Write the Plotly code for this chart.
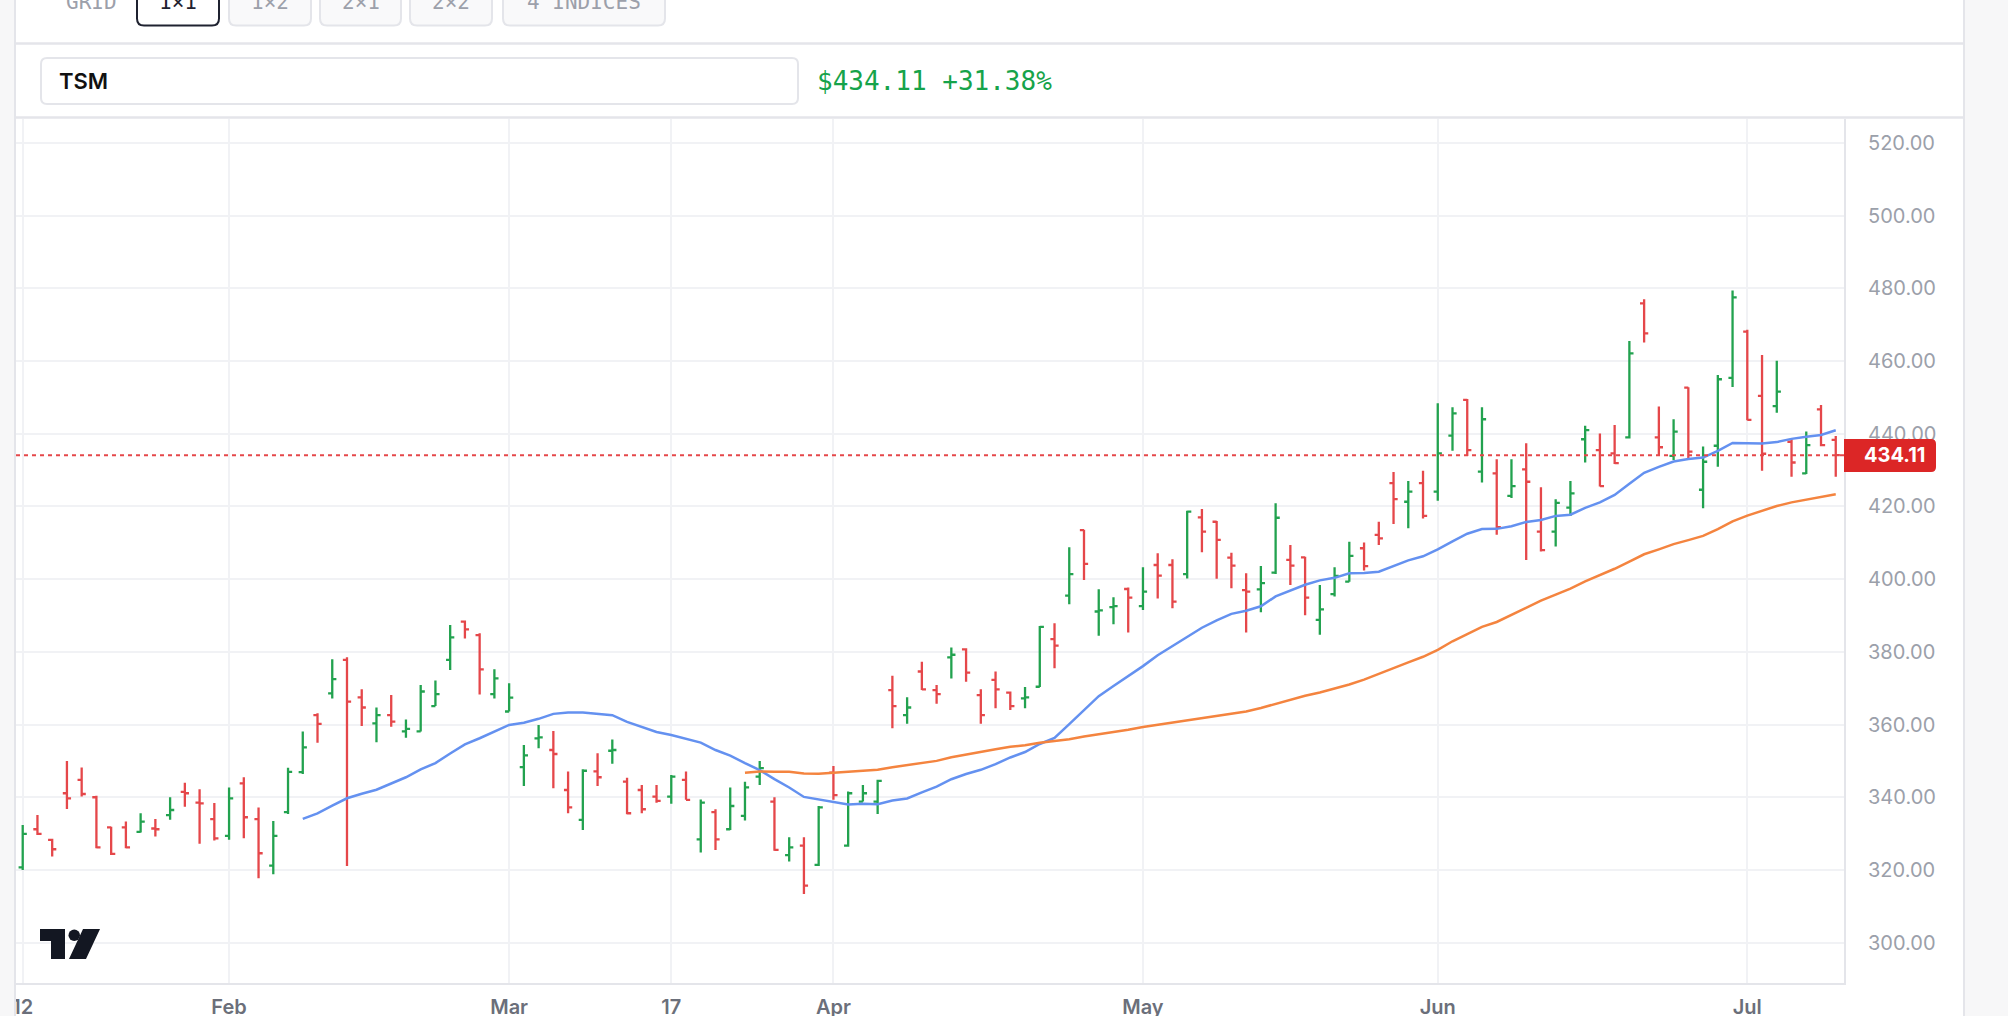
import pandas as pd
import plotly.graph_objects as go

# ---------------- data ----------------
symbol = "TSM"
last_price = 434.11
pct_change = 31.38

jan_days = [12, 13, 14, 15, 16, 20, 21, 22, 23, 26, 27, 28, 29, 30]
feb_days = [2, 3, 4, 5, 6, 9, 10, 11, 12, 13, 17, 18, 19, 20, 23, 24, 25, 26, 27]
mar_days = [2, 3, 4, 5, 6, 9, 10, 11, 12, 13, 16, 17, 18, 19, 20, 23, 24, 25, 26, 27, 30, 31]
apr_days = [1, 2, 6, 7, 8, 9, 10, 13, 14, 15, 16, 17, 20, 21, 22, 23, 24, 27, 28, 29, 30]
may_days = [1, 4, 5, 6, 7, 8, 11, 12, 13, 14, 15, 18, 19, 20, 21, 22, 26, 27, 28, 29]
jun_days = [1, 2, 3, 4, 5, 8, 9, 10, 11, 12, 15, 16, 17, 18, 22, 23, 24, 25, 26, 29, 30]
jul_days = [1, 2, 6, 7, 8, 9, 10]

opens = [320.7, 331.2, 328.3, 341.1, 344.8, 340.0, 331.7, 331.7, 330.5, 331.4,
         335.1, 341.5, 338.5, 334.0, 329.4, 343.8, 334.0, 321.2, 335.9, 346.9,
         362.6, 368.6, 377.8, 367.5, 360.3, 362.6, 358.1, 358.1, 365.1, 377.8,
         388.3, 384.6, 368.4, 363.6, 348.3, 356.2, 353.0, 342.0, 333.8, 347.1,
         352.8, 344.3, 342.0, 340.2, 340.2, 344.8, 328.4, 335.9, 331.2, 334.9,
         345.7, 338.8, 324.1, 326.7, 321.4, 346.8, 326.7, 338.8, 338.8, 369.5,
         362.6, 374.6, 369.5, 378.5, 380.7, 368.1, 372.3, 368.8, 367.2, 370.4,
         383.5, 395.5, 413.5, 391.1, 392.3, 397.3, 392.6, 403.9, 403.9, 401.4,
         417.0, 415.8, 405.9, 397.0, 397.2, 401.8, 405.3, 406.0, 388.8, 395.9,
         399.3, 408.5, 412.2, 426.4, 421.3, 426.4, 424.1, 439.5, 449.3, 429.6,
         429.1, 422.9, 430.2, 413.1, 413.1, 419.7, 438.5, 435.5, 434.6, 439.0,
         475.9, 439.0, 433.9, 452.7, 424.6, 436.7, 455.4, 468.1, 450.4, 447.6,
         437.8, 429.1, 446.7, 438.3]

highs = [332.4, 335.1, 328.6, 350.0, 348.2, 340.4, 331.9, 333.3, 335.6, 334.0,
         340.0, 344.0, 342.2, 338.4, 342.7, 345.5, 337.2, 333.5, 348.1, 358.1,
         363.1, 378.0, 378.5, 369.7, 364.7, 368.1, 361.4, 370.9, 372.1, 387.4,
         388.6, 385.1, 375.2, 371.4, 354.4, 359.9, 358.2, 347.1, 347.7, 352.1,
         355.9, 345.4, 343.4, 343.4, 346.1, 347.1, 339.4, 336.7, 342.7, 344.3,
         350.0, 340.0, 329.0, 329.0, 337.6, 348.6, 341.6, 343.4, 344.8, 373.4,
         367.5, 377.3, 370.9, 381.2, 381.0, 369.7, 374.6, 369.1, 370.3, 387.1,
         387.9, 408.8, 413.6, 397.2, 395.0, 397.7, 403.3, 407.1, 405.5, 418.8,
         419.3, 416.0, 407.3, 401.6, 403.6, 420.9, 409.4, 406.2, 398.4, 403.3,
         410.3, 410.1, 415.8, 429.5, 427.0, 429.8, 448.4, 447.3, 449.6, 447.3,
         433.0, 433.0, 437.4, 425.3, 422.0, 427.0, 442.2, 440.1, 442.4, 465.5,
         477.0, 447.5, 444.0, 452.8, 436.5, 456.2, 479.4, 468.6, 461.7, 460.1,
         438.5, 440.6, 447.9, 439.4]

lows = [320.0, 329.6, 323.7, 336.8, 340.2, 326.0, 324.1, 326.0, 330.3, 329.2,
        333.8, 337.4, 327.2, 328.1, 328.3, 328.7, 317.7, 318.8, 335.4, 346.4,
        355.0, 367.2, 321.1, 359.6, 355.1, 359.4, 356.4, 358.1, 365.1, 375.0,
        383.7, 368.3, 367.2, 363.6, 343.1, 353.5, 342.5, 335.6, 331.0, 343.1,
        349.2, 335.3, 335.6, 338.5, 338.2, 339.3, 324.8, 325.5, 331.0, 333.6,
        343.4, 325.3, 322.3, 313.4, 321.1, 339.3, 326.4, 338.8, 335.4, 359.0,
        360.2, 369.5, 365.7, 372.7, 371.8, 360.2, 364.5, 364.0, 364.5, 370.3,
        375.5, 393.1, 399.8, 384.4, 387.6, 385.3, 391.5, 394.7, 392.0, 400.2,
        407.4, 400.1, 397.5, 385.3, 390.9, 401.4, 398.4, 390.1, 384.7, 395.2,
        399.3, 402.4, 409.4, 415.2, 414.0, 416.7, 421.6, 435.3, 433.9, 426.6,
        412.2, 422.3, 405.3, 407.6, 409.0, 417.4, 432.1, 425.5, 431.7, 438.7,
        465.1, 433.9, 432.8, 432.8, 419.5, 430.9, 452.9, 443.7, 429.8, 445.8,
        428.2, 428.9, 436.6, 428.2]

closes = [329.9, 329.9, 325.7, 339.7, 340.9, 326.2, 324.4, 326.2, 333.3, 331.2,
          336.5, 341.1, 338.3, 328.7, 339.7, 334.5, 324.6, 329.4, 347.0, 353.7,
          360.2, 372.5, 366.3, 364.7, 362.6, 360.8, 358.8, 369.1, 368.4, 384.0,
          386.2, 375.2, 372.7, 367.4, 351.5, 356.5, 351.9, 337.2, 347.3, 345.5,
          353.0, 335.6, 336.7, 339.0, 345.7, 339.3, 338.5, 328.4, 337.6, 342.7,
          348.0, 325.5, 326.2, 315.7, 337.2, 340.6, 341.1, 341.1, 344.5, 365.1,
          364.7, 369.7, 368.4, 379.2, 374.3, 362.6, 369.7, 365.1, 367.5, 386.9,
          381.7, 401.4, 404.2, 391.4, 392.6, 394.9, 396.6, 401.0, 393.8, 418.6,
          413.1, 410.8, 403.7, 396.6, 398.9, 416.9, 403.7, 394.9, 391.7, 400.9,
          406.4, 403.6, 411.2, 422.0, 424.1, 417.4, 434.6, 445.6, 435.5, 444.0,
          414.3, 425.6, 426.8, 408.0, 421.0, 423.6, 441.0, 425.6, 431.9, 462.1,
          467.6, 436.3, 440.6, 435.1, 432.3, 455.0, 477.5, 443.8, 434.5, 451.6,
          432.1, 436.9, 436.9, 434.11]

tick_dates = ["2026-01-12", "2026-02-02", "2026-03-02", "2026-03-17",
              "2026-04-01", "2026-05-01", "2026-06-01", "2026-07-01"]
tick_text = ["12", "Feb", "Mar", "17", "Apr", "May", "Jun", "Jul"]
price_ticks = [300, 320, 340, 360, 380, 400, 420, 440, 460, 480, 500, 520]
grid_buttons = ["1×1", "1×2", "2×1", "2×2", "4 INDICES"]

months = [(1, jan_days), (2, feb_days), (3, mar_days), (4, apr_days),
          (5, may_days), (6, jun_days), (7, jul_days)]
dates = [f"2026-{m:02d}-{d:02d}" for m, days in months for d in days]

close_s = pd.Series(closes)
sma20 = close_s.rolling(20).mean().round(2).tolist()
sma50 = close_s.rolling(50).mean().round(2).tolist()

# ---------------- style ----------------
W, H = 2008, 1016
PL, PR, PT, PB = 16, 1844, 119, 983
PW, PH = PR - PL, PB - PT

GREEN = "#22a24f"
RED = "#e5474a"
BLUE = "#6491f0"
ORANGE = "#f4843f"
GRID = "#f1f2f5"
BORDER = "#e4e5ea"
TXT_GREEN = "#16a34a"


def fx(px):
    return (px - PL) / PW


def fy(py):
    return (PB - py) / PH


def rrect(x0, y0, x1, y1, r, rl=True, rr=True):
    rl_ = r if rl else 0
    rr_ = r if rr else 0
    p = f"M {fx(x0 + rl_)},{fy(y0)} L {fx(x1 - rr_)},{fy(y0)} "
    p += f"Q {fx(x1)},{fy(y0)} {fx(x1)},{fy(y0 + rr_)} L {fx(x1)},{fy(y1 - rr_)} "
    p += f"Q {fx(x1)},{fy(y1)} {fx(x1 - rr_)},{fy(y1)} L {fx(x0 + rl_)},{fy(y1)} "
    p += f"Q {fx(x0)},{fy(y1)} {fx(x0)},{fy(y1 - rl_)} L {fx(x0)},{fy(y0 + rl_)} "
    p += f"Q {fx(x0)},{fy(y0)} {fx(x0 + rl_)},{fy(y0)} Z"
    return p


fig = go.Figure()

fig.add_trace(go.Ohlc(
    x=dates, open=opens, high=highs, low=lows, close=closes,
    increasing=dict(line=dict(color=GREEN, width=2.3)),
    decreasing=dict(line=dict(color=RED, width=2.3)),
    tickwidth=0.28, showlegend=False, hoverinfo="skip",
))
fig.add_trace(go.Scatter(x=dates, y=sma20, mode="lines",
                         line=dict(color=BLUE, width=2.5), showlegend=False, hoverinfo="skip"))
fig.add_trace(go.Scatter(x=dates, y=sma50, mode="lines",
                         line=dict(color=ORANGE, width=2.5), showlegend=False, hoverinfo="skip"))

shapes = []
annotations = []

# side strips and card borders
shapes.append(dict(type="rect", xref="paper", yref="paper", x0=fx(0), x1=fx(14), y0=fy(0), y1=fy(H),
                   fillcolor="#f7f7f8", line=dict(width=0), layer="above"))
shapes.append(dict(type="rect", xref="paper", yref="paper", x0=fx(1965), x1=fx(W), y0=fy(0), y1=fy(H),
                   fillcolor="#f7f7f8", line=dict(width=0), layer="above"))
shapes.append(dict(type="line", xref="paper", yref="paper", x0=fx(15), x1=fx(15), y0=fy(0), y1=fy(H),
                   line=dict(color=BORDER, width=2), layer="above"))
shapes.append(dict(type="line", xref="paper", yref="paper", x0=fx(1964), x1=fx(1964), y0=fy(0), y1=fy(H),
                   line=dict(color=BORDER, width=2), layer="above"))
# header separators
for yy in (43.5, 117.5):
    shapes.append(dict(type="line", xref="paper", yref="paper", x0=fx(15), x1=fx(1964), y0=fy(yy), y1=fy(yy),
                       line=dict(color=BORDER, width=2.5), layer="above"))

# grid buttons (top row, cut by the window edge)
btn_boxes = [(137, 219), (229, 311), (320, 401), (410, 492), (503, 665)]
for i, (lbl, (bx0, bx1)) in enumerate(zip(grid_buttons, btn_boxes)):
    active = i == 0
    shapes.append(dict(type="path", xref="paper", yref="paper",
                       path=rrect(bx0, -14, bx1, 25.5, 7),
                       fillcolor="#ffffff" if active else "#f9f9fa",
                       line=dict(color="#1f2230" if active else "#e4e5ea", width=2), layer="above"))
    annotations.append(dict(x=fx((bx0 + bx1) / 2), y=fy(2), xref="paper", yref="paper", text=lbl,
                            showarrow=False, xanchor="center", yanchor="middle",
                            font=dict(family="DejaVu Sans Mono", size=21,
                                      color="#1f2230" if active else "#9ca0aa")))
annotations.append(dict(x=fx(64), y=fy(2), xref="paper", yref="paper", text="GRID", showarrow=False,
                        xanchor="left", yanchor="middle",
                        font=dict(family="DejaVu Sans Mono", size=21, color="#9ca0aa")))

# symbol input box
shapes.append(dict(type="path", xref="paper", yref="paper", path=rrect(41, 58, 798, 104, 6),
                   fillcolor="#ffffff", line=dict(color="#e4e5ea", width=2), layer="above"))
annotations.append(dict(x=fx(57), y=fy(81), xref="paper", yref="paper", text=symbol, showarrow=False,
                        xanchor="left", yanchor="middle",
                        font=dict(family="Inter", size=22, color="#111111", weight=600)))
annotations.append(dict(x=fx(815), y=fy(81), xref="paper", yref="paper",
                        text=f"${last_price:.2f} +{pct_change:.2f}%", showarrow=False,
                        xanchor="left", yanchor="middle",
                        font=dict(family="DejaVu Sans Mono", size=26, color=TXT_GREEN)))

# last price dashed line and label
shapes.append(dict(type="line", xref="paper", yref="y", x0=0, x1=1, y0=last_price, y1=last_price,
                   line=dict(color=RED, width=2, dash="4px,4px"), layer="above"))
shapes.append(dict(type="path", xref="paper", yref="paper",
                   path=rrect(1844, 439, 1936, 472, 5, rl=False, rr=True),
                   fillcolor="#dc2626", line=dict(width=0), layer="above"))
annotations.append(dict(x=fx(1862), y=last_price, xref="paper", yref="y", text=f"<b>{last_price:.2f}</b>",
                        showarrow=False, xanchor="left", yanchor="middle",
                        font=dict(family="Inter", size=20, color="#ffffff")))

# TradingView logo
logo = "#131722"
shapes.append(dict(type="path", xref="paper", yref="paper",
                   path=(f"M {fx(40)},{fy(929)} L {fx(65)},{fy(929)} L {fx(65)},{fy(959)} "
                         f"L {fx(51)},{fy(959)} L {fx(51)},{fy(941)} L {fx(40)},{fy(941)} Z"),
                   fillcolor=logo, line=dict(width=0), layer="above"))
shapes.append(dict(type="circle", xref="paper", yref="paper", x0=fx(68.5), x1=fx(80), y0=fy(929.5), y1=fy(941),
                   fillcolor=logo, line=dict(width=0), layer="above"))
shapes.append(dict(type="path", xref="paper", yref="paper",
                   path=(f"M {fx(83)},{fy(929)} L {fx(100)},{fy(929)} L {fx(86)},{fy(959)} "
                         f"L {fx(69)},{fy(959)} Z"),
                   fillcolor=logo, line=dict(width=0), layer="above"))

fig.update_layout(
    width=W, height=H, autosize=False,
    margin=dict(l=PL, r=W - PR, t=PT, b=H - PB, pad=0, autoexpand=False),
    paper_bgcolor="#ffffff", plot_bgcolor="#ffffff",
    hovermode=False, showlegend=False,
    shapes=shapes, annotations=annotations,
    xaxis=dict(type="category", range=[-0.455, 123.56], tickmode="array", automargin=False,
               tickvals=tick_dates, ticktext=tick_text, showgrid=True, gridcolor=GRID, gridwidth=2,
               showline=True, linecolor=BORDER, linewidth=2, ticks="", zeroline=False,
               ticklabelstandoff=5,
               tickfont=dict(family="Inter", size=20, color="#6b6f7a", weight=600),
               rangeslider=dict(visible=False), fixedrange=True),
    yaxis=dict(side="right", range=[288.9, 526.6], tickmode="array", tickvals=price_ticks, automargin=False,
               ticktext=[f"{v:.2f}" for v in price_ticks], showgrid=True, gridcolor=GRID, gridwidth=2,
               showline=True, linecolor=BORDER, linewidth=2, ticks="", zeroline=False,
               ticklabelstandoff=18,
               tickfont=dict(family="Inter", size=20, color="#9ba0aa"), fixedrange=True),
)

fig.write_html("out.html", include_plotlyjs=True, config={"displayModeBar": False, "staticPlot": True})
